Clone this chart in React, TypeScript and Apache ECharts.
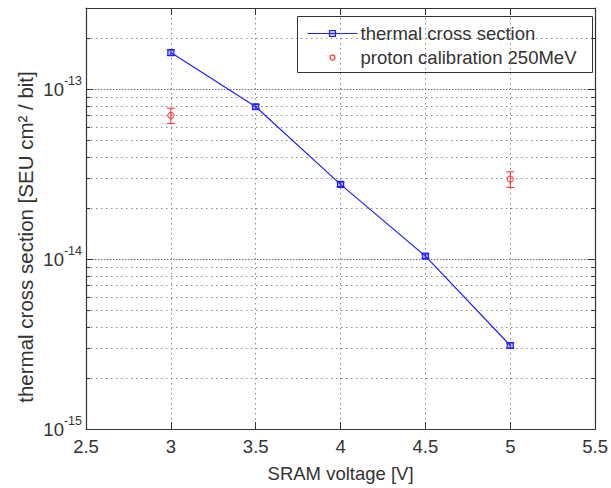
import React, { useEffect, useRef } from "react";
import * as echarts from "echarts";

const voltages = [3, 3.5, 4, 4.5, 5];
const thermalValues = [1.64e-13, 7.87e-14, 2.75e-14, 1.04e-14, 3.1e-15];
const thermalErrors = [0.06e-13, 0.25e-14, 0.08e-14, 0.03e-14, 0.1e-15];
const protonVoltages = [3, 5];
const protonValues = [7.0e-14, 2.95e-14];
const protonErrors = [0.72e-14, 0.31e-14];
const minorTicks = [
  2e-15, 3e-15, 4e-15, 5e-15, 6e-15, 7e-15, 8e-15, 9e-15,
  2e-14, 3e-14, 4e-14, 5e-14, 6e-14, 7e-14, 8e-14, 9e-14,
  2e-13,
];
const xMin = 2.5;
const xMax = 5.5;
const xStep = 0.5;
const yMin = 1e-15;
const yMax = 3e-13;
const seriesNames = ["thermal cross section", "proton calibration 250MeV"];
const xName = "SRAM voltage [V]";
const yName = "thermal cross section [SEU cm\u00B2 / bit]";

const FONT = "'Liberation Sans', Arial, sans-serif";
const TXT = "#333";
const AX = "#333";
const BLUE = "#1f1fff";
const RED = "#ff2a2a";
const GRID = "#8a8a8a";

export default function App() {
  const ref = useRef<HTMLDivElement>(null);
  useEffect(() => {
    if (!ref.current) return;
    const chart = echarts.init(ref.current, undefined, { renderer: "svg" });

    const errRender = (color: string, capHalf: number) => (params: any, api: any) => {
      const x = api.value(0);
      const lo = api.coord([x, api.value(1)]);
      const hi = api.coord([x, api.value(2)]);
      const st = { stroke: color, lineWidth: 1 };
      return {
        type: "group",
        children: [
          { type: "line", shape: { x1: lo[0], y1: lo[1], x2: hi[0], y2: hi[1] }, style: st },
          { type: "line", shape: { x1: lo[0] - capHalf, y1: lo[1], x2: lo[0] + capHalf, y2: lo[1] }, style: st },
          { type: "line", shape: { x1: hi[0] - capHalf, y1: hi[1], x2: hi[0] + capHalf, y2: hi[1] }, style: st },
        ],
      };
    };

    const minorRender = (params: any, api: any) => {
      const cs = params.coordSys;
      const p = api.coord([xMin, api.value(1)]);
      const y = Math.round(p[1]) + 0.5;
      const tickStyle = { stroke: AX, lineWidth: 1 };
      return {
        type: "group",
        children: [
          {
            type: "line",
            shape: { x1: cs.x, y1: y, x2: cs.x + cs.width, y2: y },
            style: { stroke: GRID, lineWidth: 1, lineDash: [1.5, 3.5] },
          },
          { type: "line", shape: { x1: cs.x, y1: y, x2: cs.x + 4, y2: y }, style: tickStyle },
          { type: "line", shape: { x1: cs.x + cs.width - 4, y1: y, x2: cs.x + cs.width, y2: y }, style: tickStyle },
        ],
      };
    };

    const yLabelRich = {
      b: { fontSize: 18.5, color: TXT, fontFamily: FONT },
      s: { fontSize: 12.5, color: TXT, fontFamily: FONT, padding: [0, 0, 17, 0] },
    };

    const baseX = {
      type: "value",
      min: xMin,
      max: xMax,
      interval: xStep,
      axisLine: { show: true, lineStyle: { color: AX, width: 1.2 } },
      axisTick: { show: true, inside: true, length: 7, lineStyle: { color: AX } },
    };
    const baseY = {
      type: "log",
      logBase: 10,
      min: yMin,
      max: yMax,
      axisLine: { show: true, lineStyle: { color: AX, width: 1.2 } },
      axisTick: { show: true, inside: true, length: 7, lineStyle: { color: AX } },
    };

    chart.setOption({
      animation: false,
      backgroundColor: "#fff",
      textStyle: { fontFamily: FONT },
      grid: { left: 86, right: 12, top: 8, bottom: 50, containLabel: false },
      xAxis: [
        {
          ...baseX,
          position: "bottom",
          name: xName,
          nameLocation: "middle",
          nameGap: 35,
          nameTextStyle: { fontSize: 18.5, color: TXT, fontFamily: FONT },
          axisLabel: { fontSize: 18.5, color: TXT, fontFamily: FONT, margin: 8 },
          splitLine: { show: true, lineStyle: { color: GRID, width: 1, type: [1.5, 3.5] } },
        },
        {
          ...baseX,
          position: "top",
          axisLabel: { show: false },
          splitLine: { show: false },
        },
      ],
      yAxis: [
        {
          ...baseY,
          position: "left",
          axisLabel: {
            margin: 4,
            formatter: (v: number) => `{b|10}{s|${Math.round(Math.log10(v))}}`,
            rich: yLabelRich,
            showMaxLabel: false,
          },
          splitLine: { show: true, lineStyle: { color: "#707070", width: 1, type: [1.5, 1.5] } },
        },
        {
          ...baseY,
          position: "right",
          axisLabel: { show: false },
          splitLine: { show: false },
        },
      ],
      series: [
        {
          type: "custom",
          name: "minor",
          silent: true,
          z: 1,
          renderItem: minorRender,
          data: minorTicks.map((v) => [xMin, v]),
          encode: { x: 0, y: 1 },
        },
        {
          type: "custom",
          name: "thermalErr",
          silent: true,
          z: 3,
          renderItem: errRender(BLUE, 4),
          data: voltages.map((x, i) => [x, thermalValues[i] - thermalErrors[i], thermalValues[i] + thermalErrors[i]]),
          encode: { x: 0, y: [1, 2] },
        },
        {
          type: "line",
          name: seriesNames[0],
          z: 4,
          data: voltages.map((x, i) => [x, thermalValues[i]]),
          symbol: "rect",
          symbolSize: 6,
          showSymbol: true,
          lineStyle: { color: BLUE, width: 1.2 },
          itemStyle: { color: "rgba(60,60,255,0.35)", borderColor: BLUE, borderWidth: 1.2 },
        },
        {
          type: "custom",
          name: "protonErr",
          silent: true,
          z: 3,
          renderItem: errRender(RED, 4),
          data: protonVoltages.map((x, i) => [x, protonValues[i] - protonErrors[i], protonValues[i] + protonErrors[i]]),
          encode: { x: 0, y: [1, 2] },
        },
        {
          type: "scatter",
          name: seriesNames[1],
          z: 4,
          data: protonVoltages.map((x, i) => [x, protonValues[i]]),
          symbol: "circle",
          symbolSize: 6,
          itemStyle: { color: "rgba(255,255,255,0)", borderColor: RED, borderWidth: 1.2 },
        },
      ],
      graphic: [
        {
          type: "text",
          x: 25,
          y: 237,
          rotation: Math.PI / 2,
          style: {
            text: yName,
            font: `20.5px ${FONT}`,
            fill: TXT,
            align: "center",
            verticalAlign: "middle",
          },
        },
        {
          type: "group",
          left: 297,
          top: 16,
          z: 100,
          children: [
            {
              type: "rect",
              shape: { x: 0, y: 0, width: 295, height: 56 },
              style: { fill: "#fff", stroke: AX, lineWidth: 1 },
            },
            { type: "line", shape: { x1: 10, y1: 17, x2: 60, y2: 17 }, style: { stroke: BLUE, lineWidth: 1.2 } },
            {
              type: "rect",
              shape: { x: 32, y: 14, width: 6, height: 6 },
              style: { fill: "rgba(60,60,255,0.35)", stroke: BLUE, lineWidth: 1.2 },
            },
            {
              type: "text",
              x: 63,
              y: 17,
              style: { text: seriesNames[0], font: `18.5px ${FONT}`, fill: TXT, verticalAlign: "middle" },
            },
            {
              type: "circle",
              shape: { cx: 35, cy: 41, r: 2.5 },
              style: { fill: "none", stroke: RED, lineWidth: 1.2 },
            },
            {
              type: "text",
              x: 63,
              y: 41,
              style: { text: seriesNames[1], font: `18.5px ${FONT}`, fill: TXT, verticalAlign: "middle" },
            },
          ],
        },
      ],
    });
    return () => chart.dispose();
  }, []);
  return (
    <div
      ref={ref}
      style={{ position: "fixed", left: 0, top: 0, width: 611, height: 488, background: "#fff" }}
    />
  );
}
